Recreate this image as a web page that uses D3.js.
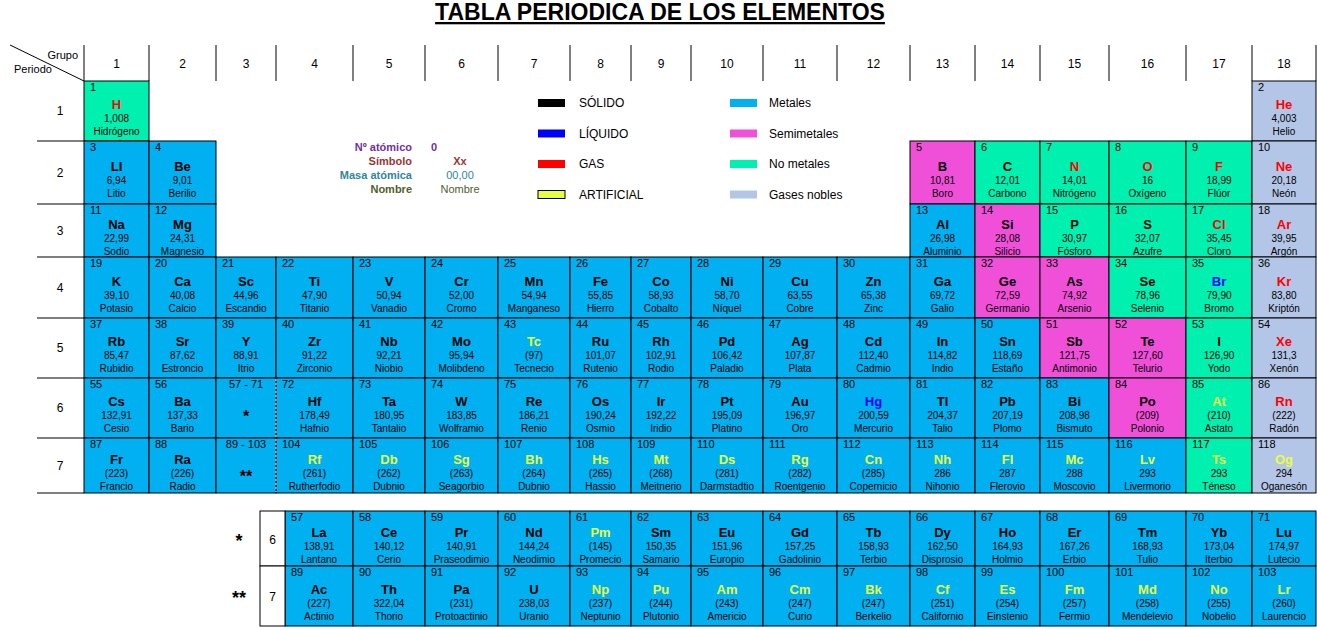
<!DOCTYPE html>
<html><head><meta charset="utf-8">
<script src="https://cdn.jsdelivr.net/npm/d3@7"></script>
<style>body{margin:0;background:#fff}text{font-family:"Liberation Sans",Arial,sans-serif}</style>
</head><body><svg id="c" width="1317" height="630"></svg>
<script>
// element data: number, symbol, mass, name, group, period, category, state
const numbers=[1,2,3,4,5,6,7,8,9,10,11,12,13,14,15,16,17,18,19,20,21,22,23,24,25,26,27,28,29,30,31,32,33,34,35,36,37,38,39,40,41,42,43,44,45,46,47,48,49,50,51,52,53,54,55,56,72,73,74,75,76,77,78,79,80,81,82,83,84,85,86,87,88,104,105,106,107,108,109,110,111,112,113,114,115,116,117,118];
const symbols=["H","He","LI","Be","B","C","N","O","F","Ne","Na","Mg","Al","Si","P","S","Cl","Ar","K","Ca","Sc","Ti","V","Cr","Mn","Fe","Co","Ni","Cu","Zn","Ga","Ge","As","Se","Br","Kr","Rb","Sr","Y","Zr","Nb","Mo","Tc","Ru","Rh","Pd","Ag","Cd","In","Sn","Sb","Te","I","Xe","Cs","Ba","Hf","Ta","W","Re","Os","Ir","Pt","Au","Hg","Tl","Pb","Bi","Po","At","Rn","Fr","Ra","Rf","Db","Sg","Bh","Hs","Mt","Ds","Rg","Cn","Nh","Fl","Mc","Lv","Ts","Og"];
const masses=["1,008","4,003","6,94","9,01","10,81","12,01","14,01","16","18,99","20,18","22,99","24,31","26,98","28,08","30,97","32,07","35,45","39,95","39,10","40,08","44,96","47,90","50,94","52,00","54,94","55,85","58,93","58,70","63,55","65,38","69,72","72,59","74,92","78,96","79,90","83,80","85,47","87,62","88,91","91,22","92,21","95,94","(97)","101,07","102,91","106,42","107,87","112,40","114,82","118,69","121,75","127,60","126,90","131,3","132,91","137,33","178,49","180,95","183,85","186,21","190,24","192,22","195,09","196,97","200,59","204,37","207,19","208,98","(209)","(210)","(222)","(223)","(226)","(261)","(262)","(263)","(264)","(265)","(268)","(281)","(282)","(285)","286","287","288","293","293","294"];
const names=["Hidrógeno","Helio","Litio","Berilio","Boro","Carbono","Nitrógeno","Oxígeno","Flúor","Neón","Sodio","Magnesio","Aluminio","Silicio","Fósforo","Azufre","Cloro","Argón","Potasio","Calcio","Escandio","Titanio","Vanadio","Cromo","Manganeso","Hierro","Cobalto","Níquel","Cobre","Zinc","Galio","Germanio","Arsenio","Selenio","Bromo","Kriptón","Rubidio","Estroncio","Itrio","Zirconio","Niobio","Molibdeno","Tecnecio","Rutenio","Rodio","Paladio","Plata","Cadmio","Indio","Estaño","Antimonio","Telurio","Yodo","Xenón","Cesio","Bario","Hafnio","Tantalio","Wolframio","Renio","Osmio","Iridio","Platino","Oro","Mercurio","Talio","Plomo","Bismuto","Polonio","Astato","Radón","Francio","Radio","Rutherfodio","Dubnio","Seagorbio","Dubnio","Hassio","Meitnerio","Darmstadtio","Roentgenio","Copernicio","Nihonio","Flerovio","Moscovio","Livermorio","Téneso","Oganesón"];
const groupsOf=[1,18,1,2,13,14,15,16,17,18,1,2,13,14,15,16,17,18,1,2,3,4,5,6,7,8,9,10,11,12,13,14,15,16,17,18,1,2,3,4,5,6,7,8,9,10,11,12,13,14,15,16,17,18,1,2,4,5,6,7,8,9,10,11,12,13,14,15,16,17,18,1,2,4,5,6,7,8,9,10,11,12,13,14,15,16,17,18];
const periodsOf=[1,1,2,2,2,2,2,2,2,2,3,3,3,3,3,3,3,3,4,4,4,4,4,4,4,4,4,4,4,4,4,4,4,4,4,4,5,5,5,5,5,5,5,5,5,5,5,5,5,5,5,5,5,5,6,6,6,6,6,6,6,6,6,6,6,6,6,6,6,6,6,7,7,7,7,7,7,7,7,7,7,7,7,7,7,7,7,7];
// category per period (M metal, S semimetal, N nonmetal, G noble gas)
const categoryRows=["NG","MMSNNNNG","MMMSNNNG","MMMMMMMMMMMMMSSNNG","MMMMMMMMMMMMMMSSNG","MMMMMMMMMMMMMMSNG","MMMMMMMMMMMMMMMNG"];
// state per period (s solid, l liquid, g gas, a artificial)
const stateRows=["gg","ssssgggg","ssssssgg","sssssssssssssssslg","ssssssassssssssssg","sssssssssslssssag","ssaaaaaaaaaaaaaaa"];
const categories=categoryRows.join("").split("");
const states=stateRows.join("").split("");
// f-block
const fNumbers=[57,58,59,60,61,62,63,64,65,66,67,68,69,70,71,89,90,91,92,93,94,95,96,97,98,99,100,101,102,103];
const fSymbols=["La","Ce","Pr","Nd","Pm","Sm","Eu","Gd","Tb","Dy","Ho","Er","Tm","Yb","Lu","Ac","Th","Pa","U","Np","Pu","Am","Cm","Bk","Cf","Es","Fm","Md","No","Lr"];
const fMasses=["138,91","140,12","140,91","144,24","(145)","150,35","151,96","157,25","158,93","162,50","164,93","167,26","168,93","173,04","174,97","(227)","322,04","(231)","238,03","(237)","(244)","(243)","(247)","(247)","(251)","(254)","(257)","(258)","(255)","(260)"];
const fNames=["Lantano","Cerio","Praseodimio","Neodimio","Promecio","Samario","Europio","Gadolinio","Terbio","Disprosio","Holmio","Erbio","Tulio","Iterbio","Lutecio","Actinio","Thorio","Protoactinio","Uranio","Neptunio","Plutonio","Americio","Curio","Berkelio","Californio","Einstenio","Fermio","Mendelevio","Nobelio","Laurencio"];
const fStates="ssssassssssssssssssaaaaaaaaaaa".split("");
const groupLabels=d3.range(1,19);
const periodLabels=d3.range(1,8);
const stateLegend=[["s","SÓLIDO"],["l","LÍQUIDO"],["g","GAS"],["a","ARTIFICIAL"]];
const catLegend=[["M","Metales"],["S","Semimetales"],["N","No metales"],["G","Gases nobles"]];

// layout
const colEdges=[84,149,216,276,353,425,498,570,631,691,763,837,910,975,1040,1109,1186,1252,1316];
const rowEdges=[81,141,204,257,318,378,438,493];
const fRowEdges=[511,566,626];
const xL=g=>colEdges[g-1], xR=g=>colEdges[g];
const yT=p=>rowEdges[p-1], yB=p=>rowEdges[p];
const catColor=d3.scaleOrdinal().domain(["M","S","N","G"]).range(["#00b0f0","#f050d8","#00f0b0","#b4c6e7"]);
const stateColor=d3.scaleOrdinal().domain(["s","l","g","a"]).range(["#000000","#0000ff","#ff0000","#e8ff40"]);
const svg=d3.select("#c");

svg.append("text").attr("x",660).attr("y",20).attr("text-anchor","middle").attr("font-size",23).attr("font-weight","bold").attr("text-decoration","underline").text("TABLA PERIODICA DE LOS ELEMENTOS");

const hdr=svg.append("g");
groupLabels.forEach(g=>{
  hdr.append("text").attr("x",(xL(g)+xR(g))/2).attr("y",68).attr("text-anchor","middle").attr("font-size",12).text(g);
});
colEdges.forEach(x=>hdr.append("line").attr("x1",x).attr("x2",x).attr("y1",45).attr("y2",81).attr("stroke","#000"));
hdr.append("line").attr("x1",10).attr("y1",45).attr("x2",84).attr("y2",81).attr("stroke","#000");
hdr.append("text").attr("x",78).attr("y",59).attr("text-anchor","end").attr("font-size",11).text("Grupo");
hdr.append("text").attr("x",14).attr("y",73).attr("font-size",11).text("Periodo");
periodLabels.forEach(p=>{
  hdr.append("text").attr("x",60).attr("y",(yT(p)+yB(p))/2+4).attr("text-anchor","middle").attr("font-size",12).text(p);
  if(p>1) hdr.append("line").attr("x1",37).attr("x2",84).attr("y1",yT(p)).attr("y2",yT(p)).attr("stroke","#000");
});
hdr.append("line").attr("x1",37).attr("x2",84).attr("y1",493).attr("y2",493).attr("stroke","#000");

function cell(g,x0,x1,y0,y1,num,sym,mass,name,cat,st){
  g.append("rect").attr("x",x0).attr("y",y0).attr("width",x1-x0).attr("height",y1-y0).attr("fill",catColor(cat)).attr("stroke","#000");
  const cx=(x0+x1)/2, h=y1-y0, base=y0+12+(h-54)/2;
  g.append("text").attr("x",x0+6).attr("y",y0+10).attr("font-size",11).text(num);
  g.append("text").attr("x",cx).attr("y",base+13).attr("text-anchor","middle").attr("font-size",13).attr("font-weight","bold").attr("fill",stateColor(st)).text(sym);
  g.append("text").attr("x",cx).attr("y",base+26).attr("text-anchor","middle").attr("font-size",10).text(mass);
  g.append("text").attr("x",cx).attr("y",base+39).attr("text-anchor","middle").attr("font-size",10).text(name);
}
const cells=svg.append("g");
numbers.forEach((n,i)=>{
  const g=groupsOf[i],p=periodsOf[i];
  cell(cells,xL(g),xR(g),yT(p),yB(p),n,symbols[i],masses[i],names[i],categories[i],states[i]);
});
[[6,"57 - 71","*"],[7,"89 - 103","**"]].forEach(([p,r,s])=>{
  cells.append("rect").attr("x",xL(3)).attr("y",yT(p)).attr("width",xR(3)-xL(3)).attr("height",yB(p)-yT(p)).attr("fill",catColor("M")).attr("stroke","#000");
  cells.append("text").attr("x",(xL(3)+xR(3))/2).attr("y",yT(p)+10).attr("text-anchor","middle").attr("font-size",11).text(r);
  cells.append("text").attr("x",(xL(3)+xR(3))/2).attr("y",yT(p)+44).attr("text-anchor","middle").attr("font-size",16).attr("font-weight","bold").text(s);
});
cells.append("line").attr("x1",xL(4)).attr("x2",xL(4)).attr("y1",yT(6)+1).attr("y2",yB(7)-1).attr("stroke","#fff").attr("stroke-dasharray","2,2");

const fb=svg.append("g");
fNumbers.forEach((n,i)=>{
  const r=Math.floor(i/15), g=4+i%15;
  const x0=g===4?285:xL(g);
  cell(fb,x0,xR(g),fRowEdges[r],fRowEdges[r+1],n,fSymbols[i],fMasses[i],fNames[i],"M",fStates[i]);
});
[[6,"*"],[7,"**"]].forEach(([p,s],r)=>{
  fb.append("rect").attr("x",260).attr("y",fRowEdges[r]).attr("width",25).attr("height",fRowEdges[r+1]-fRowEdges[r]).attr("fill","#fff").attr("stroke","#000");
  fb.append("text").attr("x",272.5).attr("y",(fRowEdges[r]+fRowEdges[r+1])/2+5).attr("text-anchor","middle").attr("font-size",12).text(p);
  fb.append("text").attr("x",239).attr("y",(fRowEdges[r]+fRowEdges[r+1])/2+8).attr("text-anchor","middle").attr("font-size",18).attr("font-weight","bold").text(s);
});

const lg=svg.append("g");
stateLegend.forEach(([k,l],i)=>{
  const y=103+i*30.5;
  lg.append("rect").attr("x",538).attr("y",y-4).attr("width",27).attr("height",8).attr("fill",stateColor(k)).attr("stroke",k==="a"?"#000":"none");
  lg.append("text").attr("x",579).attr("y",y+4).attr("font-size",12).text(l);
});
catLegend.forEach(([k,l],i)=>{
  const y=103+i*30.5;
  lg.append("rect").attr("x",730).attr("y",y-4).attr("width",27).attr("height",8).attr("fill",catColor(k));
  lg.append("text").attr("x",769).attr("y",y+4).attr("font-size",12).text(l);
});
const keyRows=[["Nº atómico","0","#7030a0",true],["Símbolo","Xx","#953735",true],["Masa atómica","00,00","#31859c",false],["Nombre","Nombre","#4f6228",false]];
keyRows.forEach(([a,b,c,bold],i)=>{
  const y=151+i*14;
  lg.append("text").attr("x",412).attr("y",y).attr("text-anchor","end").attr("font-size",11).attr("font-weight","bold").attr("fill",c).text(a);
  lg.append("text").attr("x",i===0?434:460).attr("y",y).attr("text-anchor","middle").attr("font-size",11).attr("font-weight",bold?"bold":"normal").attr("fill",c).text(b);
});
</script></body></html>
